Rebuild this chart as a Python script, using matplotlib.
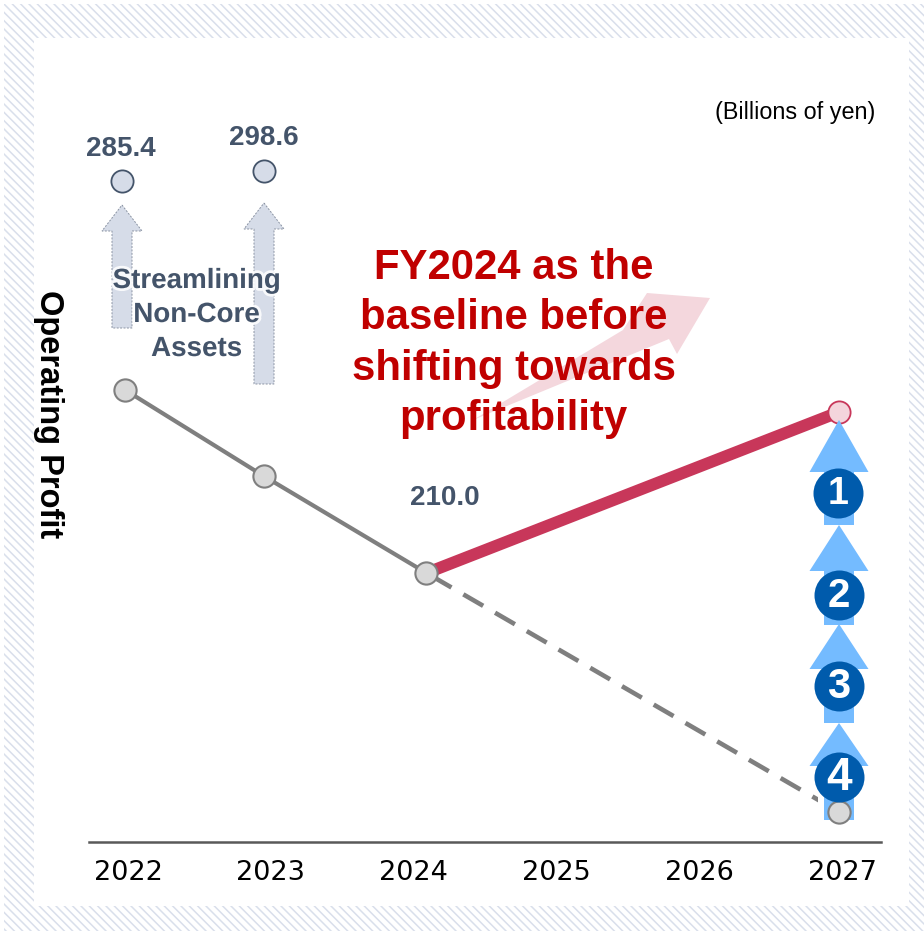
import matplotlib
matplotlib.use('Agg')
import matplotlib.pyplot as plt
import matplotlib.patheffects as pe
from matplotlib.patches import Polygon, Rectangle
from matplotlib.transforms import Affine2D

W, H = 924, 931

# x is fiscal year, y is height above the baseline (the chart is schematic, no value scale)
tick_years = [2022, 2023, 2024, 2025, 2026, 2027]
actual_x = [2021.98, 2022.95, 2024.09]
actual_y = [452, 366, 269]
plan_x = [2024.09, 2026.98]
plan_y = [269, 430]
trend_x = [2024.09, 2026.98]
trend_y = [269, 30]
before_x = [2021.96, 2022.95]
before_y = [661, 671]
before_labels = ['285.4', '298.6']
base_label = '210.0'
title_lines = ['FY2024 as the', 'baseline before', 'shifting towards', 'profitability']
note_lines = ['Streamlining', 'Non-Core', 'Assets']
lever_labels = ['1', '2', '3', '4']

GREY = '#7f7f7f'
SLATE = '#44546a'
RED = '#c8375a'
DARK_RED = '#c00000'
BLUE = '#005bac'
LIGHT_BLUE = '#74bbff'
ARROW_GREY = '#d6dce8'

plt.rcParams['font.family'] = ['Liberation Sans', 'DejaVu Sans']
plt.rcParams['hatch.linewidth'] = 1.1
plt.rcParams['hatch.color'] = '#d9dfeb'

fig = plt.figure(figsize=(W/100, H/100), dpi=100, facecolor='white')
# pixel coords measured from the top left, for the annotation shapes
px = Affine2D().scale(1, -1).translate(0, H)

fig.add_artist(Rectangle((4, 4), W-4, H-4, transform=px, facecolor='white', edgecolor='#d9dfeb', hatch='\\\\\\\\', lw=0, zorder=-3))
fig.add_artist(Rectangle((34, 38), 875, 868, transform=px, facecolor='white', edgecolor='none', zorder=-2))

ax = fig.add_axes([89/W, (H-842)/H, 792/W, 804/H])
ax.patch.set_alpha(0)
ax.set_xlim(2021.727, 2027.273)
ax.set_ylim(0, 804)
for s in ['top', 'left', 'right']:
  ax.spines[s].set_visible(False)
ax.spines['bottom'].set_color('#595959')
ax.spines['bottom'].set_linewidth(1.8)
ax.set_yticks([])
ax.set_xticks(tick_years)
ax.set_xticklabels([str(y) for y in tick_years], family='DejaVu Sans', fontsize=19.5, color='black')
ax.tick_params(axis='x', length=0, pad=13)

def up_arrow(cx, tip, base, bottom, half_head, half_shaft, **kw):
  pts = [(cx, tip), (cx+half_head, base), (cx+half_shaft, base), (cx+half_shaft, bottom),
         (cx-half_shaft, bottom), (cx-half_shaft, base), (cx-half_head, base)]
  ax.add_patch(Polygon(pts, closed=True, transform=px, clip_on=False, **kw))

# dotted arrows above 2022 and 2023
up_arrow(122, 205, 231, 328, 20, 10, facecolor=ARROW_GREY, edgecolor='#8a93a3', lw=0.7, ls=(0, (2, 1.5)), zorder=1)
up_arrow(264, 203, 229, 384, 20, 10, facecolor=ARROW_GREY, edgecolor='#8a93a3', lw=0.7, ls=(0, (2, 1.5)), zorder=1)

# pale arrow behind the headline
ax.add_patch(Polygon([(473, 420), (623, 330), (647, 293), (710, 298), (677, 354), (669, 339)], closed=True,
                     transform=px, facecolor='#f4d7dd', edgecolor='none', clip_on=False, zorder=1))

ax.plot(plan_x, plan_y, color=RED, lw=8.6, solid_capstyle='butt', zorder=1.5)
ax.plot(plan_x[1:], plan_y[1:], 'o', ms=16, mfc='#f4d5dc', mec=RED, mew=1.3, zorder=1.7)

# stacked arrows for the four levers
for tip, base, bottom in [(420, 472, 525), (525, 571, 625), (624, 669, 723), (723, 766, 820)]:
  up_arrow(839, tip, base, bottom, 29.5, 15, facecolor=LIGHT_BLUE, edgecolor='none', zorder=2)

ax.plot(actual_x, actual_y, color=GREY, lw=3, solid_capstyle='round', zorder=3, clip_on=False)
trend, = ax.plot(trend_x, trend_y, color=GREY, lw=3.3, ls=(6.7, (5, 3)), zorder=3)
# the last dash is cut short just before the arrows
trend.set_clip_path(Rectangle((400, 500), 418, 400, transform=px))

ax.plot(actual_x, actual_y, 'o', ms=16, mfc='#d9d9d9', mec=GREY, mew=1.5, zorder=5)
ax.plot(trend_x[1:], trend_y[1:], 'o', ms=16, mfc='#d9d9d9', mec=GREY, mew=1.5, zorder=5, clip_on=False)
ax.plot(before_x, before_y, 'o', ms=16, mfc=ARROW_GREY, mec=SLATE, mew=1.3, zorder=5)

# numbered circles, the digits are not all the same size in the original
for label, cx, cy, size in zip(lever_labels, [838, 839, 839, 839], [493, 595, 686, 777], [27, 29, 30, 33]):
  x, y = ax.transData.inverted().transform(px.transform((cx, cy)))
  ax.plot([x], [y], 'o', ms=36, mfc=BLUE, mec='none', zorder=6)
  ax.text(cx, cy+1, label, transform=px, ha='center', va='center', color='white', fontsize=size, fontweight='bold', zorder=7)

for label, x, y in zip(before_labels, [121, 264], [156, 145]):
  ax.text(x, y, label, transform=px, ha='center', va='baseline', color=SLATE, fontsize=20, fontweight='bold', zorder=8)
ax.text(445, 505, base_label, transform=px, ha='center', va='baseline', color=SLATE, fontsize=20, fontweight='bold', zorder=8)

halo = [pe.withStroke(linewidth=4, foreground='white', alpha=0.85)]
for line, y in zip(note_lines, [288, 322, 356]):
  ax.text(196.5, y, line, transform=px, ha='center', va='baseline', color=SLATE, fontsize=20, fontweight='bold',
          zorder=8, path_effects=halo)

for line, y in zip(title_lines, [279, 329, 380, 430]):
  ax.text(513.5, y, line, transform=px, ha='center', va='baseline', color=DARK_RED, fontsize=30.2, fontweight='bold', zorder=9)

ax.text(875, 119, '(Billions of yen)', transform=px, ha='right', va='baseline', color='black', fontsize=16.8)
ax.text(48, 414, 'Operating Profit', transform=px, ha='center', va='center', rotation=-90, color='black',
        fontsize=23.5, fontweight='bold')

fig.savefig('out.png', dpi=100)
